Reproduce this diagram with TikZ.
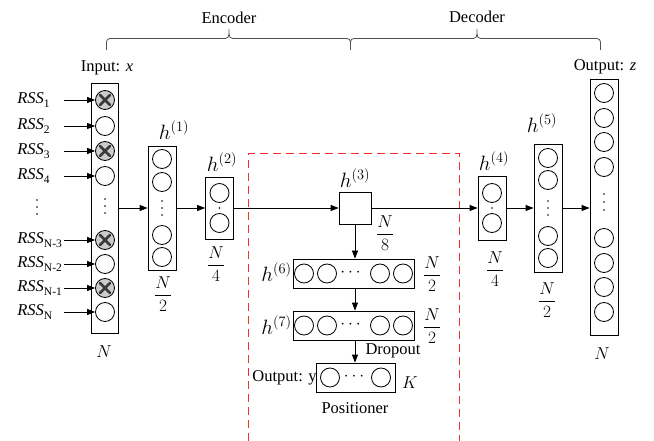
\documentclass[tikz,border=0pt]{standalone}
\usepackage{fontspec}
\setmainfont{Liberation Serif}
\usepackage{amsmath}
\usetikzlibrary{arrows.meta}
\definecolor{dashred}{RGB}{245,45,45}
\definecolor{bracegray}{RGB}{80,80,80}
\newcommand{\rsslab}[1]{\textit{RSS}\raisebox{-0.28em}{\fontsize{11.5}{12}\selectfont #1}}
\begin{document}
\begin{tikzpicture}[x=1pt,y=-1pt, font=\fontsize{16.5}{19}\selectfont, line width=0.8pt,
  neuron/.style={circle, draw, minimum size=19pt, inner sep=0pt},
  xneuron/.style={neuron, fill=gray!40, path picture={
      \draw[line width=2.6pt, gray!45!black, line cap=round]
        ([shift={(-5pt,-5pt)}]path picture bounding box.center) -- ([shift={(5pt,5pt)}]path picture bounding box.center)
        ([shift={(-5pt,5pt)}]path picture bounding box.center) -- ([shift={(5pt,-5pt)}]path picture bounding box.center);}},
  layer/.style={draw, rectangle, inner sep=0pt},
  arr/.style={-{Triangle[length=8pt,width=6pt]}},
  lab/.style={inner sep=0pt},
  hlab/.style={inner sep=0pt, font=\fontsize{19.5}{22}\selectfont},
  frac/.style={inner sep=0pt, font=\fontsize{17}{20}\selectfont},
  vdot/.style={circle, fill, inner sep=0pt, minimum size=1.8pt},
]
\useasboundingbox (0,0) rectangle (654,441);

% braces
\draw[bracegray] (106.5,50) -- (106.5,46) .. controls (106.5,38.5) .. (114,38.5) -- (221,38.5)
  .. controls (229,38.5) .. (229,29) .. controls (229,38.5) .. (237,38.5) -- (342,38.5)
  .. controls (350.5,38.5) .. (350.5,46) -- (350.5,50);
\draw[bracegray] (350.5,46) .. controls (350.5,38.5) .. (358,38.5) -- (469,38.5)
  .. controls (477,38.5) .. (477,29) .. controls (477,38.5) .. (485,38.5) -- (592,38.5)
  .. controls (600.5,38.5) .. (600.5,46) -- (600.5,50);
\node[lab] (enc) at (229,18) {Encoder};
\node[lab] (dec) at (477,17) {Decoder};

% red dashed region
\draw[dashred, line width=0.9pt, dash pattern=on 8pt off 5pt] (248.5,441) -- (248.5,153.5) -- (459.5,153.5) -- (459.5,441);

% input layer
\node[layer, minimum width=27pt, minimum height=250pt] (in) at (105,208) {};
\foreach \i/\y in {1/100,3/151,5/240,7/288} \node[xneuron] (c\i) at (105,\y) {};
\foreach \i/\y in {2/126,4/176,6/264,8/312} \node[neuron] (c\i) at (105,\y) {};
\foreach \k/\y in {1/199,2/206,3/213} \node[vdot] (ind\k) at (105,\y) {};
\node[lab] (inlab) at (107,68) {Input: \textit{x}};
\node[lab] (inN) at (104,352) {$N$};

% RSS labels
\foreach \i/\y/\t in {1/100/1,2/126/2,3/151/3,4/176/4,5/240/N-3,6/264/N-2,7/288/N-1,8/312/N} {
  \node[lab, anchor=west] (r\i) at (17,\y) {\rsslab{\t}};
  \coordinate (a\i) at (64,\y);
  \draw[arr] (a\i) -- (c\i.west);
}
\foreach \k/\y in {1/200,2/207,3/214} \node[vdot] (rd\k) at (37,\y) {};

% h1
\node[layer, minimum width=28pt, minimum height=124pt] (h1) at (162,208) {};
\foreach \i/\y in {1/159,2/182,3/235,4/257} \node[neuron] (h1c\i) at (162,\y) {};
\foreach \k/\y in {1/201,2/208,3/215} \node[vdot] (h1d\k) at (162,\y) {};
\node[hlab] (h1lab) at (174,130) {$h^{(1)}$};
\node[frac] (h1f) at (163,294) {$\dfrac{N}{2}$};

% h2
\node[layer, minimum width=28pt, minimum height=62pt] (h2) at (219.5,208) {};
\foreach \i/\y in {1/193,2/223} \node[neuron] (h2c\i) at (219.5,\y) {};
\node[vdot] (h2d) at (219.5,208) {};
\node[hlab] (h2lab) at (222,162) {$h^{(2)}$};
\node[frac] (h2f) at (216,264) {$\dfrac{N}{4}$};

% h3
\node[layer, minimum width=32pt, minimum height=32pt] (h3) at (355,208) {};
\node[hlab] (h3lab) at (355,178) {$h^{(3)}$};
\node[frac] (h3f) at (385,233) {$\dfrac{N}{8}$};

% h4
\node[layer, minimum width=28pt, minimum height=64pt] (h4) at (492,208) {};
\foreach \i/\y in {1/193,2/223} \node[neuron] (h4c\i) at (492,\y) {};
\node[vdot] (h4d) at (492,208) {};
\node[hlab] (h4lab) at (494,161) {$h^{(4)}$};
\node[frac] (h4f) at (495,269) {$\dfrac{N}{4}$};

% h5
\node[layer, minimum width=28pt, minimum height=128pt] (h5) at (548,208) {};
\foreach \i/\y in {1/158,2/180,3/236,4/258} \node[neuron] (h5c\i) at (548,\y) {};
\foreach \k/\y in {1/201,2/208,3/215} \node[vdot] (h5d\k) at (548,\y) {};
\node[hlab] (h5lab) at (542,123) {$h^{(5)}$};
\node[frac] (h5f) at (547,300) {$\dfrac{N}{2}$};

% output z
\node[layer, minimum width=28pt, minimum height=256pt] (z) at (604,207) {};
\foreach \i/\y in {1/93,2/118,3/142,4/167,5/238,6/263,7/287,8/312} \node[neuron] (zc\i) at (604,\y) {};
\foreach \k/\y in {1/194,2/202,3/210} \node[vdot] (zd\k) at (604,\y) {};
\node[lab] (zlab) at (605,67) {Output: \textit{z}};
\node[lab] (zN) at (602,354) {$N$};

% h6
\node[layer, minimum width=121pt, minimum height=29pt] (h6) at (353.5,273.5) {};
\foreach \i/\x in {1/304,2/327,3/380,4/403} \node[neuron] (h6c\i) at (\x,273.5) {};
\node[lab] (h6dots) at (352,273) {$\cdots$};
\node[hlab, anchor=east] (h6lab) at (292,272) {$h^{(6)}$};
\node[frac] (h6f) at (432,274) {$\dfrac{N}{2}$};

% h7
\node[layer, minimum width=121pt, minimum height=29pt] (h7) at (353.5,325.5) {};
\foreach \i/\x in {1/304,2/327,3/380,4/403} \node[neuron] (h7c\i) at (\x,325.5) {};
\node[lab] (h7dots) at (352,325) {$\cdots$};
\node[hlab, anchor=east] (h7lab) at (292,325) {$h^{(7)}$};
\node[frac] (h7f) at (432,326) {$\dfrac{N}{2}$};

% output y
\node[layer, minimum width=79pt, minimum height=29pt] (oy) at (355.5,377.5) {};
\foreach \i/\x in {1/330,2/381} \node[neuron] (oyc\i) at (\x,377.5) {};
\node[lab] (oydots) at (355.5,377) {$\cdots$};
\node[lab, anchor=east] (oylab) at (317,378) {Output: y};
\node[frac] (K) at (410,383) {$K$};
\node[lab] (pos) at (355,408) {Positioner};
\node[lab] (drop) at (393,351) {Dropout};

% connectors
\draw[arr] (in.east) -- (h1.west);
\draw[arr] (h1.east) -- (h2.west);
\draw[arr] (h2.east) -- (h3.west);
\draw[arr] (h3.east) -- (h4.west);
\draw[arr] (h4.east) -- (h5.west);
\draw[arr] (h5.east) -- (z.west |- h5.east);
\draw[arr] (h3.south) -- (h3.south |- h6.north);
\draw[arr] (h3.south |- h6.south) -- (h3.south |- h7.north);
\draw[arr] (h3.south |- h7.south) -- (h3.south |- oy.north);
\end{tikzpicture}
\end{document}
